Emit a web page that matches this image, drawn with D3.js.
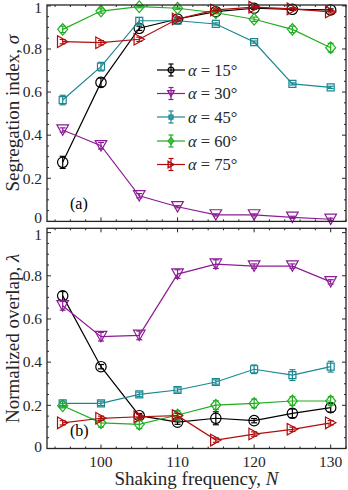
<!DOCTYPE html>
<html><head><meta charset="utf-8">
<script src="https://cdn.jsdelivr.net/npm/d3@7"></script>
<style>
html,body{margin:0;padding:0;background:#fff;}
svg{display:block;font-family:"Liberation Serif","Times New Roman",serif;}
</style></head>
<body><svg id="c" width="348" height="490"></svg>
<script>
// ---- data ----
const freq = [95, 100, 105, 110, 115, 120, 125, 130];
const xTicks = [100, 110, 120, 130];
const yTicks = [0, 0.2, 0.4, 0.6, 0.8, 1];
const yTickLabels = ["0", "0.2", "0.4", "0.6", "0.8", "1"];
const seriesNames = ["15", "30", "45", "60", "75"];
const seriesColors = ["#000000", "#8c1c95", "#1a8891", "#1fae1f", "#b00c0c"];
const seriesMarkers = ["circle", "tridown", "square", "diamond", "triright"];

// Panel (a): segregation index sigma
const sigma15 = [0.274, 0.645, 0.896, 0.939, 0.973, 0.989, 0.984, 0.981];
const sigma30 = [0.424, 0.351, 0.119, 0.068, 0.030, 0.030, 0.019, 0.010];
const sigma45 = [0.563, 0.718, 0.931, 0.931, 0.916, 0.832, 0.638, 0.622];
const sigma60 = [0.891, 0.976, 0.996, 0.989, 0.968, 0.938, 0.891, 0.806];
const sigma75 = [0.834, 0.829, 0.845, 0.939, 0.981, 0.994, 0.986, 0.972];
const sigmaErr15 = [0.028, 0.02, 0.01, 0.005, 0.005, 0.005, 0.005, 0.005];
const sigmaErr30 = [0.01, 0.015, 0.01, 0.005, 0.005, 0.005, 0.005, 0.005];
const sigmaErr45 = [0.022, 0.02, 0.015, 0.005, 0.005, 0.005, 0.005, 0.005];
const sigmaErr60 = [0.015, 0.01, 0.005, 0.005, 0.005, 0.01, 0.015, 0.02];
const sigmaErr75 = [0.01, 0.01, 0.01, 0.01, 0.005, 0.005, 0.005, 0.005];

// Panel (b): normalized overlap lambda
const lambda15 = [0.707, 0.379, 0.152, 0.122, 0.140, 0.129, 0.163, 0.189];
const lambda30 = [0.661, 0.518, 0.524, 0.808, 0.854, 0.845, 0.845, 0.772];
const lambda45 = [0.209, 0.209, 0.251, 0.271, 0.308, 0.367, 0.340, 0.379];
const lambda60 = [0.198, 0.119, 0.112, 0.155, 0.201, 0.209, 0.220, 0.220];
const lambda75 = [0.119, 0.140, 0.147, 0.152, 0.039, 0.067, 0.089, 0.119];
const lambdaErr15 = [0.02, 0.01, 0.01, 0.01, 0.03, 0.01, 0.02, 0.02];
const lambdaErr30 = [0.02, 0.02, 0.02, 0.02, 0.02, 0.01, 0.01, 0.01];
const lambdaErr45 = [0.01, 0.01, 0.01, 0.01, 0.01, 0.02, 0.025, 0.025];
const lambdaErr60 = [0.01, 0.02, 0.02, 0.02, 0.02, 0.02, 0.02, 0.02];
const lambdaErr75 = [0.01, 0.01, 0.01, 0.01, 0.01, 0.01, 0.01, 0.01];

// ---- layout ----
const svg = d3.select("#c");
const L = 47, R = 346;
const x = d3.scaleLinear().domain([92.95, 132.0]).range([L, R]);
const panels = [
  {top: 5, bottom: 221.4, domain: [0, 1.004], label: "(a)", ylab: "Segregation index, ",
   ysym: "σ", vals: [sigma15, sigma30, sigma45, sigma60, sigma75],
   errs: [sigmaErr15, sigmaErr30, sigmaErr45, sigmaErr60, sigmaErr75], legend: true, xlabels: false,
   firstDy: "0.1em", lastDy: "0.45em"},
  {top: 228.3, bottom: 448.5, domain: [0, 1.02], label: "(b)", ylab: "Normalized overlap, ",
   ysym: "λ", vals: [lambda15, lambda30, lambda45, lambda60, lambda75],
   errs: [lambdaErr15, lambdaErr30, lambdaErr45, lambdaErr60, lambdaErr75], legend: false, xlabels: true,
   firstDy: "0.25em", lastDy: "0.5em"}
];

function markerPath(type, s) {
  const p = d3.path();
  if (type === "circle") { p.arc(0, 0, 5.2 * s, 0, 2 * Math.PI); }
  else if (type === "tridown") { const w = 5.8 * s, h = 5.2 * s; p.moveTo(-w, -h); p.lineTo(w, -h); p.lineTo(0, h); p.closePath(); }
  else if (type === "square") { const a = 3.5 * s; p.rect(-a, -a, 2 * a, 2 * a); }
  else if (type === "diamond") { const w = 5 * s, h = 5.8 * s; p.moveTo(0, -h); p.lineTo(w, 0); p.lineTo(0, h); p.lineTo(-w, 0); p.closePath(); }
  else if (type === "triright") { const w = 5.2 * s, h = 5.8 * s; p.moveTo(-w, -h); p.lineTo(w, 0); p.lineTo(-w, h); p.closePath(); }
  return p.toString();
}

const minorX = d3.range(94, 133, 2).filter(v => v % 10 !== 0);
panels.forEach(P => {
  const y = d3.scaleLinear().domain(P.domain).range([P.bottom, P.top]);
  const g = svg.append("g");
  const minorY = d3.range(0, 1.001, 0.05).filter(v => Math.abs(v * 5 - Math.round(v * 5)) > 1e-6);

  const tk = g.append("g").attr("stroke", "#262626").attr("stroke-width", 1);
  xTicks.forEach(v => {
    tk.append("line").attr("x1", x(v)).attr("x2", x(v)).attr("y1", P.bottom).attr("y2", P.bottom - 4);
    tk.append("line").attr("x1", x(v)).attr("x2", x(v)).attr("y1", P.top).attr("y2", P.top + 4);
  });
  minorX.forEach(v => {
    tk.append("line").attr("x1", x(v)).attr("x2", x(v)).attr("y1", P.bottom).attr("y2", P.bottom - 2);
    tk.append("line").attr("x1", x(v)).attr("x2", x(v)).attr("y1", P.top).attr("y2", P.top + 2);
  });
  yTicks.forEach(v => {
    tk.append("line").attr("x1", L).attr("x2", L + 4).attr("y1", y(v)).attr("y2", y(v));
    tk.append("line").attr("x1", R).attr("x2", R - 4).attr("y1", y(v)).attr("y2", y(v));
  });
  minorY.forEach(v => {
    tk.append("line").attr("x1", L).attr("x2", L + 2).attr("y1", y(v)).attr("y2", y(v));
    tk.append("line").attr("x1", R).attr("x2", R - 2).attr("y1", y(v)).attr("y2", y(v));
  });

  yTicks.forEach((v, i) => {
    const dy = i === 0 ? P.firstDy : (i === yTicks.length - 1 ? P.lastDy : "0.34em");
    g.append("text").attr("x", L - 5).attr("y", y(v)).attr("dy", dy)
      .attr("text-anchor", "end").attr("font-size", 15.5).attr("fill", "#262626").text(yTickLabels[i]);
  });
  if (P.xlabels) {
    xTicks.forEach(v => {
      g.append("text").attr("x", x(v)).attr("y", P.bottom + 13).attr("dy", "0.34em")
        .attr("text-anchor", "middle").attr("font-size", 15.5).attr("fill", "#262626").text(v);
    });
  }
  const yl = g.append("text").attr("transform", `translate(13,${(P.top + P.bottom) / 2}) rotate(-90)`)
    .attr("text-anchor", "middle").attr("dy", "0.34em").attr("font-size", 19).attr("fill", "#262626");
  yl.append("tspan").text(P.ylab);
  yl.append("tspan").attr("font-style", "italic").text(P.ysym);

  const sg = g.append("g");
  P.vals.forEach((vals, si) => {
    const col = seriesColors[si];
    const s = sg.append("g");
    const line = d3.line().x((d, i) => x(freq[i])).y(d => y(d));
    s.append("path").attr("d", line(vals)).attr("fill", "none").attr("stroke", col).attr("stroke-width", 1.2);
    vals.forEach((v, i) => {
      const e = P.errs[si][i], cx = x(freq[i]);
      s.append("line").attr("x1", cx).attr("x2", cx).attr("y1", y(v - e)).attr("y2", y(v + e))
        .attr("stroke", col).attr("stroke-width", 1.2);
      [v - e, v + e].forEach(t => s.append("line").attr("x1", cx - 3).attr("x2", cx + 3)
        .attr("y1", y(t)).attr("y2", y(t)).attr("stroke", col).attr("stroke-width", 1.2));
      s.append("path").attr("d", markerPath(seriesMarkers[si], 1))
        .attr("transform", `translate(${cx},${y(v)})`)
        .attr("fill", "none").attr("stroke", col).attr("stroke-width", 1.2);
    });
  });

  g.append("rect").attr("x", L).attr("y", P.top).attr("width", R - L).attr("height", P.bottom - P.top)
    .attr("fill", "none").attr("stroke", "#262626").attr("stroke-width", 1.3);

  g.append("text").attr("x", 70).attr("y", P.bottom - 18).attr("dy", "0.34em")
    .attr("font-size", 16).attr("fill", "#000").text(P.label);

  if (P.legend) {
    const rowsY = [70, 93.5, 117, 141, 164.5];
    seriesNames.forEach((nm, si) => {
      const col = seriesColors[si], ry = rowsY[si];
      const lg = g.append("g");
      lg.append("line").attr("x1", 157).attr("x2", 185).attr("y1", ry).attr("y2", ry)
        .attr("stroke", col).attr("stroke-width", 1.2);
      lg.append("line").attr("x1", 171).attr("x2", 171).attr("y1", ry - 6).attr("y2", ry + 6)
        .attr("stroke", col).attr("stroke-width", 1.2);
      [ry - 6, ry + 6].forEach(t => lg.append("line").attr("x1", 168.5).attr("x2", 173.5)
        .attr("y1", t).attr("y2", t).attr("stroke", col).attr("stroke-width", 1.2));
      lg.append("path").attr("d", markerPath(seriesMarkers[si], 0.55))
        .attr("transform", `translate(171,${ry})`).attr("fill", "none").attr("stroke", col).attr("stroke-width", 1.4);
      const t = lg.append("text").attr("x", 188).attr("y", ry).attr("dy", "0.34em")
        .attr("font-size", 16.5).attr("fill", "#262626");
      t.append("tspan").attr("font-style", "italic").text("α");
      t.append("tspan").text(" = " + nm + "°");
    });
  }
});

const xl = svg.append("text").attr("x", (L + R) / 2).attr("y", 479).attr("dy", "0.34em")
  .attr("text-anchor", "middle").attr("font-size", 19).attr("fill", "#262626");
xl.append("tspan").text("Shaking frequency, ");
xl.append("tspan").attr("font-style", "italic").text("N");
</script></body></html>
